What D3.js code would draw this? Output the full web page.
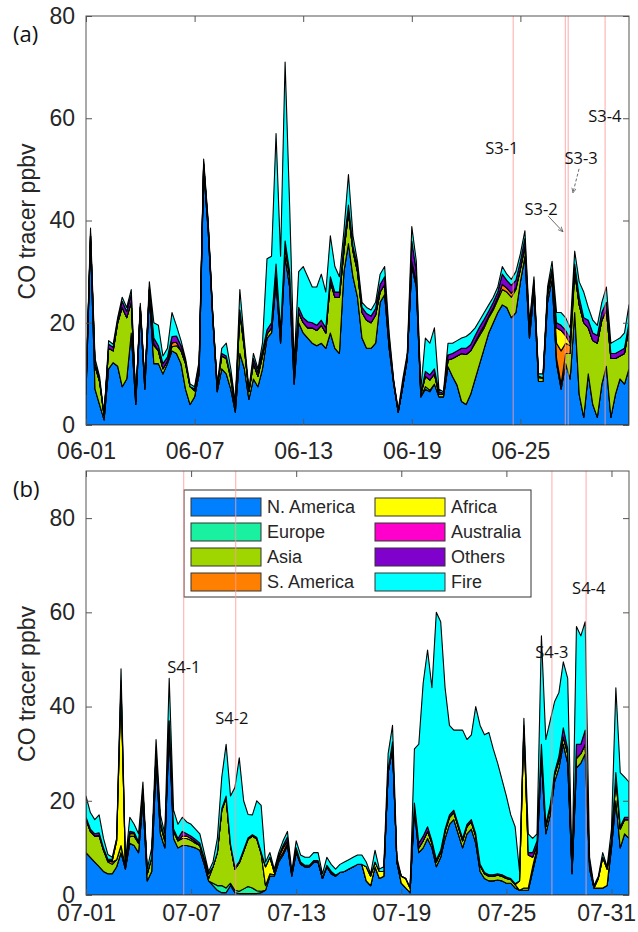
<!DOCTYPE html>
<html>
<head>
<meta charset="utf-8">
<script src="https://cdn.jsdelivr.net/npm/d3@7"></script>
<style>
  body { margin: 0; background: #fff; }
  text { font-family: "Liberation Sans", Arial, sans-serif; fill: #262626; }
</style>
</head>
<body>
<svg id="chart" width="638" height="932"></svg>
<script>
// Source regions (stack order, bottom to top) and their colours
const sources = ["N. America", "Europe", "Asia", "S. America", "Africa", "Australia", "Others", "Fire"];
const colors = ["#0080ff", "#19f0a0", "#9fd600", "#ff8000", "#ffff00", "#ff00cc", "#8000cc", "#00ffff"];

// ---- June (panel a), one value every 6 hours from 06-01 00:00 ----
const juneNA = [6,36,7,4,1,11,12.2,11.5,7.5,9, 18,4,22,7,25,12,12,10,12,14.5,
  14,12,7,4,5.5,10,50,38,21,6.5, 11,10,7,2.5,14,11,5,9,7.5,11,
  17,18,28,16,33,27,8,20,18,17, 16,15.5,16,15,18,15,14,30,35.5,29,
  25,17,15,15,16,24,25.5,15,8,2.5, 7.5,13,31,27,5.5,7,6.5,8,5.5,5.5,
  11.4,9.5,7.8,4.6,4,6,9,12,15,18, 20,22,23.5,23,21,22,28,33,17,26,
  8.5,8.5,24,28.5,12,7,12,9,22,6, 1.5,10,4,1.5,8,11.5,1.5,6,9,8, 11];
const juneEurope = [0,0,0,0,0,0,0,0,0,0, 0,0,0,0,0,0,0,0,0,0,
  0,0,0,0,0,0,0,0,0,0, 0,0,0,0,0,0,0,0,0,0,
  0,0,0,0,0,0,0,0,0,0, 0,0,0,0,0,0,0,0,0,0,
  0,0,0,0,0,0,0,0,0,0, 0,0,0,0,0,0.5,0.3,0,0,0,
  0,0,0,0,0,0,0,0,0,0, 0,0,0,0,0,0,0,0,0,0,
  0,0,0,0,0,0,0,0,0,0, 0,0,0,0,0,0,0,0,0,0, 0];
const juneAsia = [1,1,4.5,4.5,0.8,4,2.3,8.5,15.5,12, 6,0.7,1,1,1.5,3.5,2.5,1,0.5,0.8,
  1.5,2.5,5,3.5,1.2,1,1,1,0.5,1, 2.5,3,2,0.5,8,4,1.5,3,2,2.5,
  0.8,1,2,1.5,2,2,2,2,2,2, 3,3,3.5,3,10,10,11,4,6,5,
  5,5,5.5,5,5.5,2,2,1,0.3,0, 0,0,1,1,0.5,2,2,2,0.5,0.5,
  1.3,3.5,5.7,9.4,9.8,8.5,7,5.5,4,3, 2.5,2.5,3,3,4,4.5,2.5,2,1.5,1.5,
  0.8,0.7,1.5,1.5,1,1,2,5,8,17.5, 18.5,9,12.5,14.5,12.5,11,11.5,7,4.5,6, 8];
const juneSAmerica = [0,0,0,0,0,0,0,0,0,0, 0,0,0,0,0,0.5,0,0,0,0.8,
  0.7,0,0,0,0,0,0,0,0,0, 0,0,0,0,0,0,0,0,0,0,
  0,0,0,0,0,0,0,0,0,0, 0,0,0,0,0,0,0,0,0,0,
  0,0,0,0,0,0,0,0,0,0, 0,0,0,0,0,0,0,0,0,0,
  0,0,0,0,0,0,0.3,0.5,0.5,0.3, 0.5,0.5,1,0.8,0.8,0.3,0,0,0,0,
  0,0,0,0,3,6.5,2,1.5,0,0, 0,0,0,0,0,0,0,0,0,0, 0];
const juneAfrica = [0,0,0,0,0,0,0,0,0,0, 0,0,0,0,0,0,0,0,0,0,
  0,0,0,0,0,0,0,0,0,0, 0,0,0.5,1,0,0,0,0,0,0,
  0,0,0,0,0,0,0,0,0,0, 0,0,0,0,0,0,0,0,0,0,
  0,0,0,0,0,0,0,0,0,0, 0,0,0,0,0,0,0,0,0,0,
  0,0,0,0,0,0,0,0,0,0, 0,0,0,0,0,0,0,0,0,0,
  0,0,0,0,3,4,1.5,0.5,0,0, 0,0,0,0,0,0,0,0,0,0, 0];
const juneAustralia = [0,0,0,0,0,0,0,0,0,0, 0,0,0,0,0,0,0,0,0,0,
  0,0,0,0,0,0,0,0,0,0, 0,0,0,0,0,0,0,0,0,0,
  0,0,0,0,0,0,0,0,0,0, 0,0,0,0,0,0,0,0,0,0,
  0,0,0,0,0,0,0,0,0,0, 0,0,0,0,0,0,0,0,0,0,
  0,0,0,0,0,0,0,0,0,0, 0,0,0,0,0,0,0,0,0,0,
  0,0,0,0,0,0,0,0,0,0, 0,0,0,0,0,0,0,0,0,0, 0];
const juneOthers = [0.3,0.5,0.5,0.3,0,0.8,0.7,0.5,1.2,1.2, 1.5,0,0.3,0,0.5,1,1,1,0.8,1.2,
  1.2,1,0.5,0,0.4,1,0.5,0.5,0.3,0, 0.5,0.5,0,0,0.5,0.5,0,1,0.8,1,
  0.8,1,1.5,1,1,1,0.5,1,1,1.2, 1,1,1,1,1,1,1,1.5,1.5,1,
  1,1,1.3,1.3,1.3,1.5,1.5,1,0.3,0.3, 0.3,0.5,4,2,0,1,1,1,0.5,0.2,
  1,1,1,1,1.2,1.2,1.2,1.2,1.2,1, 1,1,2,1.5,1.5,1.5,1.5,1.5,0.8,0.8,
  0.3,0,0.5,0.5,1,1,1,1,1.5,1.5, 1,1.5,1.5,1.5,1.5,1.5,1,1,1,1, 1];
const juneFire = [0.2,1,1,0.7,0.2,0.7,0.6,0.5,0.8,0.8, 1,0.3,0.5,0.5,1,3,4,1.5,1.7,4.7,
  2,1,0.5,0.5,0.4,0.5,0.5,0.5,0.2,0.5, 1,2.5,1.5,0.3,4,1,0.5,1,0.7,1.5,
  13.9,13,25.5,14.5,35,13,1.5,7,10,8.8, 7,7.5,9,7,8,5,3,2.5,6,2,
  1,1,1.2,1.2,1.2,2,2,1,0.2,0.2, 1.2,0.5,2.8,2,1,6.5,6.2,8,0.5,0.3,
  2.3,2,2,2,2.3,2.3,1.5,1.3,1.3,1.2, 1,1,1.5,1.2,1.2,1.7,1.5,1.5,0.7,0.7,
  0.4,0.8,1,1.5,2,2.5,2.5,2,2.5,3, 5,2.5,2.5,2,2,3,2,2.5,2.5,3, 3.5];

// ---- July (panel b), one value every 6 hours from 07-01 00:00 ----
const julyNA = [9,8,7,6,5,4.5,4.5,6,9,5.5, 11,10.5,9,20,3,5,28,13,10,35,
  12,10,10.5,10.5,10.3,10,9.5,6.5,3,2, 1,0.5,0.5,2,0.5,0.3,0.3,0.3,0.3,0.3,
  0.5,1,4,4,7,8.5,10.5,4,9,6.5, 6,6,7,7,3.5,6,4.5,4,4.8,5,
  5.5,6,6.5,6.5,3,2,6,3.5,4,26, 31,7,2.5,1.5,0.5,18,9,10,12,10,
  6,8,12,15,16,13,10,13,14,11, 5,3.5,3,3,3.2,3,2.5,2.5,1.5,1,
  1,1,5,9,29,13,17,24,27,32, 28,4.5,27,28,30,5.5,1.5,1.5,1.5,2, 10,20,10,13,12];
const julyEurope = [0,0,0,0,0,0,0,0,0,0, 0,0,0,0,0,0,0,0,0,0,
  0,0,0,0,0,0,0,0,0,0.5, 1,1.5,1,0.5,0.5,0.5,1,1.5,1.2,0.6,
  0.3,0,0,0,0,0,0,0,0,0, 0,0,0,0,0,0,0,0,0,0,
  0,0,0,0,0,0,0,0,0,0, 0,0,0,0,0,0,0,0,0,0,
  0,0,0,0,0,0,0,0,0,0, 0,0,0,0,0,0,0,0,0,0,
  0,0,0,0,0,0,0,0,0,0, 0,0,0,0,0,0,0,0,0,0, 0,0,0,0,0];
const julyAsia = [7,5.5,5.5,6.5,4.5,2.5,2,1.5,1.5,0.5, 1.5,2,2,2,1.5,3,2,2,1.5,1,
  1.5,1.5,1.5,1.5,1.3,1,1,1,0.5,3.5, 7,16,19,8,4.5,6,8,10,11,11,
  8,1,0.5,0.3,0.5,0.5,0.5,0.3,0.5,0.2, 0,0,0,0,0,0,0,0,0,0,
  0,0,0,0,0,0,0,0,0,0, 0.5,0,0,0,0,1,1,1.5,1.5,1,
  1,1,1.5,1.5,1.5,1.5,1.5,1.5,1.5,1.5, 1.2,1,1,1,1,1,1,0.8,0.7,0,
  0.5,0.5,1,1,2,1.5,1.5,1.5,1.5,1.5, 2,0.5,2,2,2,1,0,0,0,0, 1,5,4,3,4];
const julySAmerica = [0,0,0,0.2,0,0.3,0.5,0,0,0, 0,0,0,0,0,0,0,0,0,0,
  0,0,0,0,0,0,0,0,0,0, 0,0,0,0,0,0,0,0,0,0,
  0,0,0,0,0.5,1,0.5,0,0,0, 0,0,0,0,0,0,0,0,0,0,
  0,0,0,0,0,0,0,0,0,0, 0,0,0,0,0,0,0,0,0,0,
  0,0,0,0,0,0,0,0,0,0, 0,0,0,0,0,0,0,0,0,0,
  0,0,0,0,0,0,0,0,0,0, 0,0,0,0,0,0,0,0,0,0, 0,0,0,0,0];
const julyAfrica = [0,0,0,0,0,0,0.3,4,34,0.5, 0.5,0.5,0,0,0,0,0,0,0,0,
  0,0,0.5,0.5,0.4,0.3,0,0,1,0, 0,0,0,0,0,0,0,0,0,0,
  0,4,3.5,0.5,0,0,0,0,0,0, 0,0,0,0,0,0,0.3,0.2,0,0,
  0,0,0,0,3,2,1,1.5,1,0, 0,0,1.5,2,1,0,0,0,0,0,
  0,0,0,0,0,0,0,0,0,0, 0,0,0,0,0,0,0,0,0,2,
  34,7,2,0.5,0,0,0,0,0,0, 0,0,0,0,0,0,0,2,6.5,3.5, 0,0,0,0,0];
const julyAustralia = [0,0,0,0,0,0,0,0,0,0, 0,0,0,0,0,0,0,0,0,0,
  0,0,0,0,0,0,0,0,0,0, 0,0,0,0,0,0,0,0,0,0,
  0,0,0,0,0,0,0,0,0,0, 0,0,0,0,0,0,0,0,0,0,
  0,0,0,0,0,0,0,0,0,0, 0,0,0,0,0,0,0,0,0,0,
  0,0,0,0,0,0,0,0,0,0, 0,0,0,0,0,0,0,0,0,0,
  0,0,0,0,0,0,0,0,0,0, 0,0,0,0,0,0,0,0,0,0, 0,0,0,0,0];
const julyOthers = [0.5,0.5,0.5,0.5,0.5,0.3,0.3,0.3,1,0, 0.5,0.3,0.3,0.5,0,0,0.5,0.5,0.3,1,
  0.5,0.5,1,0.5,0.5,0.5,0.5,0.3,0,0, 0,0.3,0.5,0.3,0.3,0.3,0.3,0.3,0.3,0.3,
  0.3,0,0,0,0.3,0.5,0.8,0,0.5,0.3, 0.3,0.3,0.3,0.3,0.2,0.3,0.2,0,0,0,
  0,0,0,0,0,0,0,0,0,0.5, 1,0,0,0,0,0.5,1,1,1,0.5,
  0.5,0.5,0.5,0.5,0.5,0.5,0.5,0.5,0.5,0.5, 0.3,0.3,0.3,0.3,0.3,0.3,0.3,0.2,0.2,0,
  0.5,0.5,1,1,1,0.5,0.5,0.5,1,2, 1,0.3,3,2,3,0.5,0,0,0,0, 0.5,1,0.5,0.5,0.5];
const julyFire = [4.5,3.5,3,3.8,2,1,0.4,0.2,2.5,0.5, 3,1.7,1.7,1.5,1,2,2.5,1.5,1.2,9,
  4,3,3,2.5,2.5,2.2,2,1.2,0.5,1, 3,6.7,11,10.2,17,22,10.4,5,4.2,7.8,
  9.9,1,1,0.7,0.7,1,1.2,0.7,1.5,1.5, 1.7,1.7,1.7,1.7,0.8,1.7,1.5,1.3,1.7,2,
  2,2,2,2,1,0.5,2.5,0.5,1,3.5, 3.5,1,0,0,0,11.5,21,32.5,37.5,32.5,
  52.5,48.5,30,19,17,20,23,18,18,27, 29.5,29.2,30.2,26.7,23.5,20.2,17.2,13.5,12.1,2,
  1.5,4,3,1.5,23,18,18,15,13.5,14, 15,0.7,25,23,23,1,0.5,0.5,1,0.5, 2.5,18,11.5,8.5,7.5];

// Axis ticks (day of month) and y ticks
const juneTickDays = [1, 7, 13, 19, 25];
const julyTickDays = [1, 7, 13, 19, 25, 31];
const yTicks = [0, 20, 40, 60, 80];

// Sample events (vertical lines, days since start of month) and their labels [day, ppbv]
const juneEventDays = [23.6, 26.48, 26.64, 28.68];
const juneLabels = ["S3-1", "S3-2", "S3-3", "S3-4"];
const juneLabelPos = [[22.98, 54.2], [25.14, 42.3], [27.35, 52.3], [28.67, 60.5]];
const juneArrows = [[25.53, 40.9, 26.35, 37.8, false], [27.24, 50.1, 26.9, 45.4, true]];
const julyEventDays = [5.58, 8.55, 26.6, 28.55];
const julyLabels = ["S4-1", "S4-2", "S4-3", "S4-4"];
const julyLabelPos = [[5.59, 48.6], [8.33, 37.6], [26.6, 51.6], [28.7, 65.2]];

const svg = d3.select("#chart");
const left = 86, right = 629;
const DAY = 86400000;

svg.append("defs").append("marker")
  .attr("id", "arrowhead")
  .attr("viewBox", "0 0 10 10")
  .attr("refX", 9).attr("refY", 5)
  .attr("markerWidth", 7).attr("markerHeight", 7)
  .attr("orient", "auto")
  .append("path")
  .attr("d", "M0,1 L9,5 L0,9")
  .attr("fill", "none")
  .attr("stroke", "#444")
  .attr("stroke-width", 1.2);

function drawPanel(cfg) {
  const start = new Date(2016, cfg.month, 1);
  const end = new Date(2016, cfg.month + 1, 1);
  const x = d3.scaleTime().domain([start, end]).range([left, right]);
  const y = d3.scaleLinear().domain([0, cfg.yMax]).range([cfg.bottom, cfg.top]);
  const dayToDate = d => new Date(start.getTime() + d * DAY);

  // table for the stack
  const rows = cfg.series[0].map((_, i) => {
    const row = { date: new Date(2016, cfg.month, 1, i * 6) };
    sources.forEach((k, j) => row[k] = cfg.series[j][i]);
    return row;
  });
  const stacked = d3.stack().keys(sources)(rows);

  const g = svg.append("g");
  g.append("clipPath").attr("id", "clip-" + cfg.id)
    .append("rect")
    .attr("x", left).attr("y", cfg.top)
    .attr("width", right - left).attr("height", cfg.bottom - cfg.top);

  const area = d3.area()
    .x(d => x(d.data.date))
    .y0(d => y(d[0]))
    .y1(d => y(d[1]));

  g.append("g").attr("clip-path", `url(#clip-${cfg.id})`)
    .selectAll("path")
    .data(stacked)
    .join("path")
    .attr("d", area)
    .attr("fill", (d, i) => colors[i])
    .attr("stroke", "#000")
    .attr("stroke-width", 1.1)
    .attr("stroke-linejoin", "round");

  // legend (panel b only)
  if (cfg.legend) {
    const lg = g.append("g");
    lg.append("rect")
      .attr("x", 184).attr("y", 490).attr("width", 347).attr("height", 107)
      .attr("fill", "#fff").attr("stroke", "#333").attr("stroke-width", 1);
    sources.forEach((s, i) => {
      const col = Math.floor(i / 4), r = i % 4;
      const sx = 191 + col * 184, sy = 498 + r * 25;
      lg.append("rect")
        .attr("x", sx).attr("y", sy).attr("width", 70).attr("height", 18)
        .attr("fill", colors[i]).attr("stroke", "#333").attr("stroke-width", 1);
      lg.append("text")
        .attr("x", sx + 76).attr("y", sy + 9)
        .attr("dominant-baseline", "central")
        .style("font-size", "18px")
        .text(s);
    });
  }

  // vertical event lines
  g.selectAll(".event")
    .data(cfg.events)
    .join("line")
    .attr("x1", d => x(dayToDate(d))).attr("x2", d => x(dayToDate(d)))
    .attr("y1", cfg.top).attr("y2", cfg.bottom)
    .attr("stroke", "#ff9c9c").attr("stroke-width", 1).attr("opacity", 0.85);

  // event labels
  g.selectAll(".evlabel")
    .data(cfg.labels)
    .join("text")
    .attr("x", (d, i) => x(dayToDate(cfg.labelPos[i][0])))
    .attr("y", (d, i) => y(cfg.labelPos[i][1]))
    .attr("text-anchor", "middle")
    .attr("dominant-baseline", "central")
    .style("font-family", "'Open Sans', sans-serif")
    .style("font-size", "16.5px")
    .style("fill", "#111")
    .text(d => d);

  (cfg.arrows || []).forEach(a => {
    g.append("line")
      .attr("x1", x(dayToDate(a[0]))).attr("y1", y(a[1]))
      .attr("x2", x(dayToDate(a[2]))).attr("y2", y(a[3]))
      .attr("stroke", "#444").attr("stroke-width", 0.8)
      .attr("stroke-dasharray", a[4] ? "3,2" : null)
      .attr("marker-end", "url(#arrowhead)");
  });

  // box and axes
  const ticks = cfg.tickDays.map(d => new Date(2016, cfg.month, d));
  const axisColor = "#555";

  const xAxis = g.append("g")
    .attr("transform", `translate(0,${cfg.bottom})`)
    .call(d3.axisBottom(x).tickValues(ticks).tickFormat(d3.timeFormat("%m-%d"))
      .tickSize(-6).tickPadding(cfg.xPad));
  const xTop = g.append("g")
    .attr("transform", `translate(0,${cfg.top})`)
    .call(d3.axisTop(x).tickValues(ticks).tickFormat("").tickSize(-6));
  const yAxis = g.append("g")
    .attr("transform", `translate(${left},0)`)
    .call(d3.axisLeft(y).tickValues(yTicks).tickSize(-6).tickPadding(11));
  const yRight = g.append("g")
    .attr("transform", `translate(${right},0)`)
    .call(d3.axisRight(y).tickValues(yTicks).tickFormat("").tickSize(-6));

  [xAxis, xTop, yAxis, yRight].forEach(a => {
    a.select(".domain").remove();
    a.selectAll("line").attr("stroke", axisColor);
    a.selectAll("text").style("font-size", "23px").style("fill", "#262626")
      .style("font-family", "'Liberation Sans', Arial, sans-serif");
  });

  // keep the last date label inside the page, as in the original
  xAxis.selectAll(".tick text").each(function () {
    const box = this.getBBox();
    const tx = d3.select(this.parentNode).attr("transform").match(/translate\(([-\d.]+)/);
    const cx = tx ? +tx[1] : 0;
    const overflow = cx + box.x + box.width - 636;
    if (overflow > 0) d3.select(this).attr("x", -overflow);
  });

  g.append("rect")
    .attr("x", left).attr("y", cfg.top)
    .attr("width", right - left).attr("height", cfg.bottom - cfg.top)
    .attr("fill", "none").attr("stroke", axisColor).attr("stroke-width", 1);

  // y label
  g.append("text")
    .attr("transform", `translate(27,${(cfg.top + cfg.bottom) / 2 + cfg.labelShift}) rotate(-90)`)
    .attr("text-anchor", "middle")
    .attr("dominant-baseline", "central")
    .style("font-size", "23px")
    .text("CO tracer ppbv");

  // panel tag
  g.append("text")
    .attr("x", 13).attr("y", cfg.top + 26)
    .style("font-family", "'Open Sans', sans-serif")
    .style("font-size", "22px")
    .style("fill", "#111")
    .text(cfg.tag);
}

drawPanel({
  id: "a", tag: "(a)", month: 5, top: 16, bottom: 425, yMax: 80, xPad: 18, labelShift: 1,
  series: [juneNA, juneEurope, juneAsia, juneSAmerica, juneAfrica, juneAustralia, juneOthers, juneFire],
  tickDays: juneTickDays, events: juneEventDays, labels: juneLabels, labelPos: juneLabelPos,
  arrows: juneArrows
});

drawPanel({
  id: "b", tag: "(b)", month: 6, top: 471, bottom: 895, yMax: 90, xPad: 10, labelShift: 1,
  series: [julyNA, julyEurope, julyAsia, julySAmerica, julyAfrica, julyAustralia, julyOthers, julyFire],
  tickDays: julyTickDays, events: julyEventDays, labels: julyLabels, labelPos: julyLabelPos,
  legend: true
});
</script>
</body>
</html>
